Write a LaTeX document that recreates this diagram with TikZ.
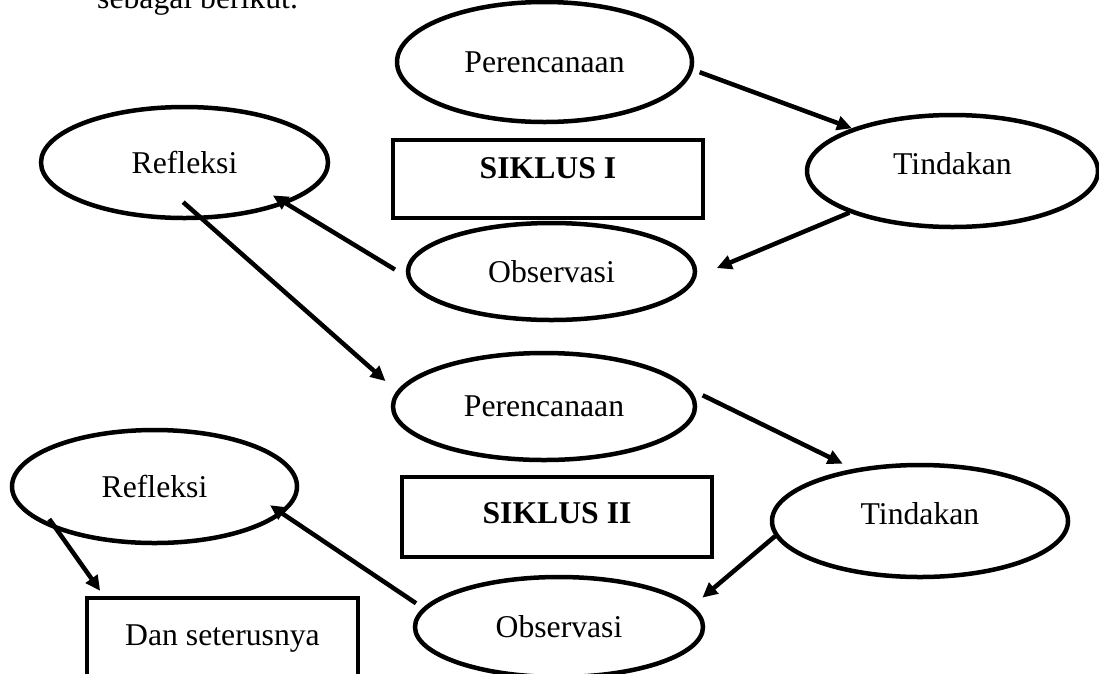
\documentclass[tikz,border=0pt]{standalone}
\usepackage{fontspec}
\setmainfont{Liberation Serif}
\usetikzlibrary{shapes.geometric,arrows.meta}
\newcommand{\tebalgaris}{4.5pt}
\tikzset{
  tahap/.style={draw,ellipse,line width=\tebalgaris,inner sep=0pt},
  kotak/.style={draw,rectangle,line width=\tebalgaris,inner sep=0pt},
  panah/.style={-{Triangle[length=15pt,width=14pt]},line width=\tebalgaris}
}

\begin{document}
\begin{tikzpicture}[x=1pt,y=-1pt,font=\fontsize{31.7}{38}\selectfont]
        \useasboundingbox (0,0) rectangle (1099,673);
        \clip (0,0) rectangle (1099,673);
        \node[anchor=base west,inner sep=0pt] (pengantar) at (97,8) {sebagai berikut.};
        % siklus I
        \node[tahap,minimum width=295pt,minimum height=120pt] (renc1) at (544.5,62) {Perencanaan};
        \node[kotak,minimum width=310pt,minimum height=78pt,text depth=22pt] (siklus1) at (548,179) {\textbf{SIKLUS I}};
        \node[tahap,minimum width=291pt,minimum height=112pt,text depth=16pt] (tind1) at (952.5,171) {Tindakan};
        \draw[panah,shorten <=7pt] (renc1.-3.4) -- (tind1.157);
        \node[tahap,minimum width=287pt,minimum height=97pt] (obs1) at (551.5,271.5) {Observasi};
        \draw[panah,shorten >=22pt] (tind1.202) -- (obs1.-2);
        \node[tahap,minimum width=287pt,minimum height=111pt] (refl1) at (184.5,162.5) {Refleksi};
        \draw[panah,shorten <=13.5pt,shorten >=-16pt] (obs1.182) -- (refl1.-22.5);
        % siklus II
        \node[tahap,minimum width=302pt,minimum height=107pt] (renc2) at (544,406.5) {Perencanaan};
        \draw[panah,shorten <=-26.6pt,shorten >=15pt] (refl1.-72.4) -- (renc2.174);
        \node[kotak,minimum width=310pt,minimum height=80pt,text depth=8pt] (siklus2) at (557,517) {\textbf{SIKLUS II}};
        \node[tahap,minimum width=296pt,minimum height=112pt,text depth=16pt] (tind2) at (920,521) {Tindakan};
        \draw[panah,shorten <=15pt,shorten >=11.7pt] (renc2.7) -- (tind2.142);
        \node[tahap,minimum width=288pt,minimum height=100pt] (obs2) at (559,627) {Observasi};
        \draw[panah,shorten >=12.7pt] (tind2.186.4) -- (obs2.9);
        \node[tahap,minimum width=285pt,minimum height=113pt] (refl2) at (154.5,486.5) {Refleksi};
        \draw[panah,shorten <=8.3pt,shorten >=-15.3pt] (obs2.172.7) -- (refl2.-12.2);
        \node[kotak,minimum width=271pt,minimum height=82pt] (lanjut) at (222.5,639) {Dan seterusnya};
        \draw[panah,shorten <=-13.3pt,shorten >=6pt] (refl2.204.3) -- (lanjut.160);
\end{tikzpicture}
\end{document}
